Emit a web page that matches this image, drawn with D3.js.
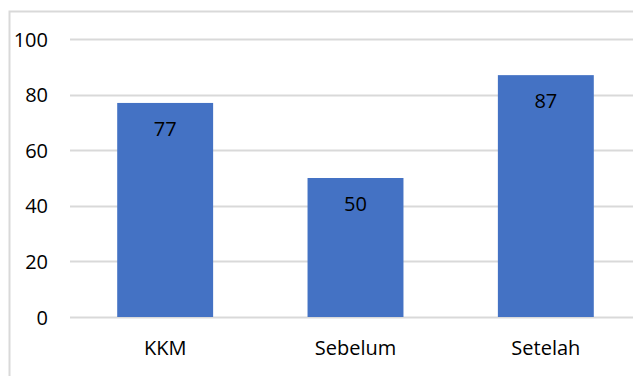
<!DOCTYPE html>
<html>
<head>
<meta charset="utf-8">
<script src="https://cdn.jsdelivr.net/npm/d3@7"></script>
<style>
  html, body { margin: 0; padding: 0; background: #fff; overflow: hidden; }
  svg { display: block; }
  text { font-family: "Open Sans", "Liberation Sans", sans-serif; fill: #000; }
</style>
</head>
<body>
<svg id="chart" width="633" height="376"></svg>
<script>
// Chart data
const categories = ["KKM", "Sebelum", "Setelah"];
const values = [77, 50, 87];
const yTicks = [0, 20, 40, 60, 80, 100];

const W = 633, H = 376;
const FONT = 20;
const svg = d3.select("#chart");

// Outer chart frame (extends past the visible area on the right and bottom)
svg.append("rect")
  .attr("x", 9.5).attr("y", 11.5)
  .attr("width", 640).attr("height", 380)
  .attr("fill", "#fff")
  .attr("stroke", "#d9d9d9")
  .attr("stroke-width", 2);

const plot = { left: 70, right: 641, top: 39, bottom: 317 };

const x = d3.scaleBand()
  .domain(categories)
  .range([plot.left, plot.right])
  .paddingInner(0.496)
  .paddingOuter(0.248);

const y = d3.scaleLinear()
  .domain([0, 100])
  .range([plot.bottom, plot.top]);

// Horizontal gridlines
svg.append("g")
  .selectAll("line")
  .data(yTicks)
  .join("line")
  .attr("x1", plot.left).attr("x2", W + 5)
  .attr("y1", d => Math.round(y(d)) + 0.5)
  .attr("y2", d => Math.round(y(d)) + 0.5)
  .attr("stroke", "#d9d9d9")
  .attr("stroke-width", 2);

// Y axis labels
const yAxis = d3.axisLeft(y).tickValues(yTicks).tickSize(0).tickPadding(0);
const yG = svg.append("g")
  .attr("transform", `translate(48,0)`)
  .call(yAxis);
yG.select(".domain").remove();
yG.selectAll("text")
  .attr("font-size", FONT)
  .attr("font-family", "'Open Sans', 'Liberation Sans', sans-serif")
  .attr("fill", "#000")
  .attr("dy", "0.35em");

// Bars
svg.append("g")
  .selectAll("rect")
  .data(values)
  .join("rect")
  .attr("x", (d, i) => x(categories[i]))
  .attr("y", d => y(d))
  .attr("width", x.bandwidth())
  .attr("height", d => y(0) - y(d))
  .attr("fill", "#4472c4");

// Value labels inside the bars
svg.append("g")
  .selectAll("text")
  .data(values)
  .join("text")
  .attr("x", (d, i) => x(categories[i]) + x.bandwidth() / 2)
  .attr("y", d => y(d) + 26)
  .attr("dy", "0.35em")
  .attr("text-anchor", "middle")
  .attr("font-size", FONT)
  .text(d => d);

// Category axis labels
const xAxis = d3.axisBottom(x).tickSize(0).tickPadding(0);
const xG = svg.append("g")
  .attr("transform", `translate(0,${plot.bottom})`)
  .call(xAxis);
xG.select(".domain").remove();
xG.selectAll("text")
  .attr("font-size", FONT)
  .attr("font-family", "'Open Sans', 'Liberation Sans', sans-serif")
  .attr("fill", "#000")
  .attr("y", 31)
  .attr("dy", "0.35em");
</script>
</body>
</html>
